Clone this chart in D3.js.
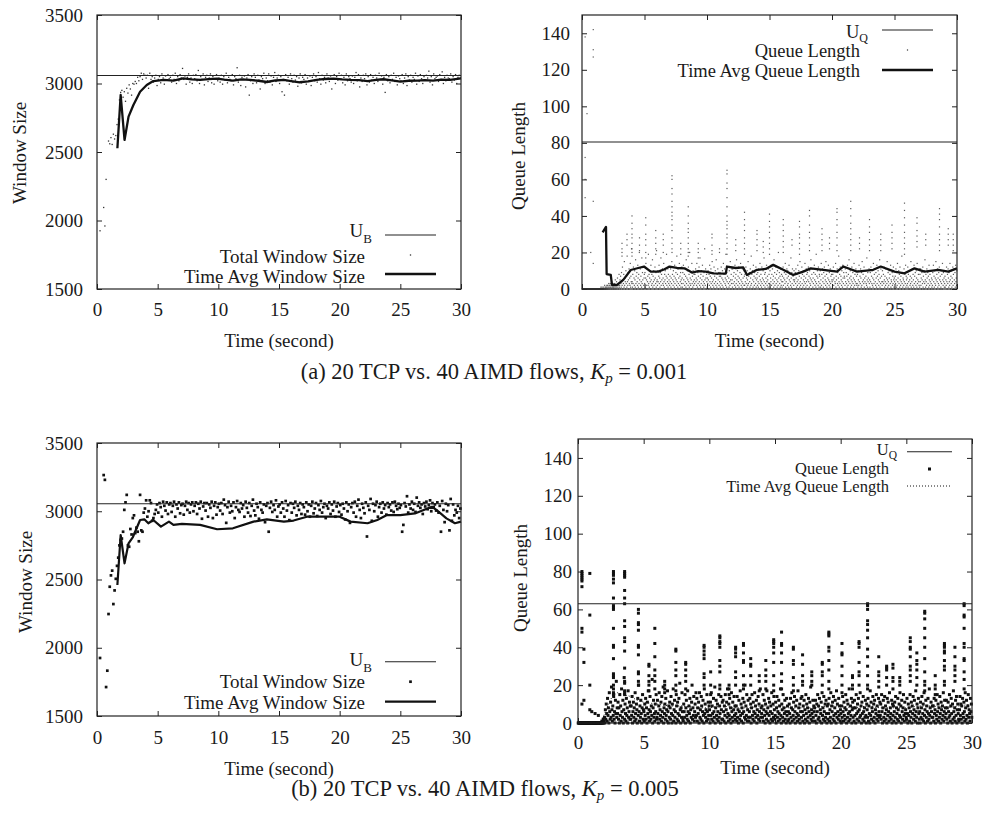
<!DOCTYPE html>
<html><head><meta charset="utf-8">
<script src="https://cdn.jsdelivr.net/npm/d3@7/dist/d3.min.js"></script>
<style>
body{margin:0;background:#fff}
svg{display:block}
text{font-family:"Liberation Serif","Times New Roman",serif;fill:#1a1a1a}
</style>
</head><body>
<svg id="c" width="989" height="823"></svg>
<script>
// ---------------- DATA ----------------
const xTicks = [0, 5, 10, 15, 20, 25, 30];
const winTicks = [1500, 2000, 2500, 3000, 3500];
const qTicks = [0, 20, 40, 60, 80, 100, 120, 140];
const U_B_a = 3058, U_Q_a = 80.5, U_B_b = 3055, U_Q_b = 63;

// (a) total window size, 10 samples per second ("-" = no sample)
const w1Lines = [
"- - 1925 - - 2095 1960 2300 - 2580",
"2560 2605 2555 2630 2595 2620 2700 2740 2880 2935",
"2950 2900 2940 2870 2965 2930 2990 2960 2915 3000",
"2995 3015 3000 3045 3020 3050 3075 3030 3070 3060",
"3040 3060 2965 3075 3030 3050 3010 3040 3060 2985",
"3030 3050 3005 3070 3040 2995 3055 3025 3065 3035",
"3045 3010 3060 3030 3075 3000 3050 3020 3065 3040",
"3110 3030 3055 2995 3045 3070 3010 3040 3000 3060",
"3035 3065 3020 3095 3000 3050 3030 3070 2990 3045",
"3060 3015 3040 3070 3005 3050 2995 3035 3065 3020",
"3040 3010 3060 2995 3050 3025 3075 3005 3045 3030",
"3020 3065 2990 3050 3035 3115 3010 3060 2985 3045",
"3030 3055 2975 3040 3065 2915 3020 3050 3000 3070",
"3045 3005 3060 3025 2960 3050 3035 3075 3000 3040",
"3020 3070 3010 3055 2990 3045 3080 3015 3040 3060",
"3000 3050 2940 3030 2915 3065 3020 3045 2995 3070",
"3035 3010 3060 3025 3050 2980 3040 3070 3005 3045",
"3030 3065 2995 3040 3015 3055 2985 3045 3070 3020",
"3050 3010 3080 3035 2995 3060 3025 3045 3005 3070",
"3040 3015 3055 2960 3035 3065 3000 3050 3025 3075",
"3030 3060 3005 3045 2990 3070 3020 3050 3035 3010",
"3055 3000 3045 3080 3020 3065 2975 3040 3015 3060",
"3035 3070 2990 3050 3010 3065 3025 3045 3000 3060",
"3040 3015 3075 3030 3055 2995 3045 2935 3065 3020",
"3050 3005 3060 3030 3075 3015 3045 2990 3055 3035",
"3020 3065 3000 3040 3070 2985 3050 3025 3060 3010",
"3045 3030 3075 2995 3055 3015 3065 3035 3000 3050",
"3025 3060 3040 3090 3010 3050 2990 3070 3035 3045",
"3055 3015 3065 3030 3085 3000 3045 3020 3060 3040",
"3035 3070 3010 3050 3025 3065 3000 3045 3060 3040"
];
const avg1T = [1.68,1.95,2.27,2.6,3.0,3.55,4.1,4.64,5.5,6.3,7.1,7.8,8.5,9.2,9.9,10.5,11.2,11.9,12.6,13.3,14,14.7,15.4,16,16.7,17.4,18.1,18.8,19.5,20.2,20.9,21.6,22.3,23,23.6,24.3,25,25.7,26.4,27,27.7,28.4,29.1,30];
const avg1V = [2527,2916,2588,2758,2843,2940,2989,3018,3026,3021,3038,3030,3026,3032,3036,3028,3021,3030,3026,3020,3011,3022,3026,3018,3009,3015,3026,3033,3036,3030,3026,3025,3018,3026,3031,3022,3013,3020,3021,3025,3021,3028,3026,3038];

// (a) queue length, 40 samples per second
const q2Lines = [
"0 0 0 0 0 0 0 0 0 0 0 0 0 0 0 0 0 0 0 0 0 0 0 0 0 0 0 0 0 0 0 0 0 0 0 0 0 0 0 0",
"0 0 0 0 0 0 0 0 0 0 0 0 0 0 0 0 0 0 0 0 1 0 0 0 1 0 0 0 0 1 0 0 2 0 1 0 0 1 0 2",
"1 0 2 0 1 3 0 2 1 0 3 1 2 0 4 1 0 2 1 3 0 1 2 0 3 1 5 0 2 1 4 0 2 6 1 3 0 2 8 1",
"2 5 0 7 3 1 9 4 2 12 0 5 3 8 1 15 2 6 4 0 10 3 7 1 18 4 2 9 5 0 11 3 6 2 14 1 7 4 22 3",
"4 1 8 3 12 0 6 2 10 5 1 16 3 7 0 9 4 2 13 6 1 8 3 20 5 0 11 2 7 4 1 17 3 9 5 0 12 2 6 8",
"3 9 1 6 14 2 5 0 11 4 7 2 19 3 8 1 6 10 4 0 13 5 2 8 3 16 1 7 4 10 2 5 0 12 6 3 9 1 21 4",
"5 2 10 4 0 7 13 3 6 1 9 4 17 2 8 5 0 11 3 6 2 14 4 1 8 5 10 3 0 7 19 2 6 4 11 1 8 3 5 12",
"2 7 4 11 1 6 3 15 0 8 5 2 10 4 7 1 13 3 6 0 9 5 2 18 4 8 1 11 3 6 0 14 2 7 4 9 1 5 3 12",
"6 1 9 3 13 5 0 8 2 11 4 7 1 16 3 6 0 10 5 2 12 4 8 1 20 3 6 2 9 5 0 14 3 7 1 10 4 2 8 5",
"3 8 0 11 4 6 2 14 5 1 9 3 7 0 12 4 2 17 6 1 8 3 10 5 0 13 2 7 4 1 9 3 22 5 2 11 6 0 8 4",
"1 6 3 10 5 0 8 2 13 4 7 1 11 3 6 0 15 4 2 9 5 1 12 3 7 0 10 4 2 16 6 1 8 3 11 5 0 9 2 7",
"4 9 1 7 3 12 0 6 2 10 5 1 14 4 8 0 11 3 6 2 19 5 1 9 4 7 0 12 3 6 1 10 4 2 15 5 0 8 3 11",
"5 1 11 3 7 0 9 4 2 13 6 1 8 3 16 5 0 10 2 7 4 12 1 6 3 9 0 14 5 2 8 4 1 11 3 6 0 10 2 7",
"2 8 4 0 12 3 6 1 10 5 2 15 3 7 0 9 4 1 11 6 2 18 3 8 0 10 5 1 13 4 7 2 9 0 6 3 12 1 5 8",
"6 2 9 4 1 11 3 7 0 14 5 2 8 4 1 12 3 6 0 10 5 2 17 4 8 1 9 3 6 0 13 4 2 7 5 1 11 3 8 0",
"3 10 1 6 4 13 2 8 0 11 5 3 7 1 16 4 9 2 6 0 12 3 8 5 1 10 4 2 20 6 0 9 3 7 1 11 5 2 8 4",
"1 7 4 12 2 6 0 9 5 3 14 1 8 4 0 11 6 2 10 3 7 1 13 5 0 8 4 2 17 6 1 9 3 11 0 7 5 2 10 4",
"5 0 9 3 11 6 1 8 4 2 13 5 0 10 3 7 1 15 4 2 9 6 0 12 3 8 1 10 5 2 7 4 0 14 3 6 1 11 4 8",
"2 9 5 0 12 4 7 1 10 3 6 2 16 5 0 8 4 11 1 6 3 9 0 13 5 2 8 4 1 19 3 7 0 10 6 2 12 4 1 8",
"7 3 10 1 5 14 2 8 0 11 4 6 1 9 3 12 0 7 5 2 15 4 8 1 10 3 6 0 13 5 2 9 4 1 11 3 7 0 8 5",
"4 1 8 5 12 2 6 0 10 4 3 14 1 7 5 0 11 3 9 2 6 18 4 1 8 3 12 0 7 5 2 10 4 1 13 6 3 9 0 7",
"6 2 11 4 0 9 3 7 1 13 5 2 8 4 16 0 6 3 10 1 7 5 2 12 4 0 9 3 6 1 14 5 2 8 4 0 11 3 7 2",
"3 8 1 10 5 2 13 4 0 7 3 11 6 1 9 2 15 4 0 8 5 3 12 1 6 4 10 0 7 3 2 17 5 1 9 4 6 0 11 3",
"5 1 9 4 12 0 7 3 10 2 6 1 14 5 3 8 0 11 4 2 9 6 1 13 3 7 0 10 5 2 8 4 16 1 6 3 11 0 7 4",
"2 10 4 0 8 3 12 5 1 7 4 2 11 0 6 3 15 5 1 9 4 2 10 6 0 8 3 13 1 5 4 0 9 2 7 3 12 5 1 6",
"4 0 7 3 11 5 1 9 2 14 4 6 0 10 3 8 1 12 5 2 7 4 0 18 3 9 1 6 5 2 11 4 0 8 3 13 1 7 5 2",
"6 3 12 1 8 4 0 10 5 2 7 3 15 1 6 4 0 11 2 8 5 1 13 3 7 0 9 4 2 10 6 1 14 3 5 0 8 4 2 11",
"1 8 4 11 2 6 0 9 5 3 12 1 7 4 0 10 3 16 5 1 8 4 2 11 6 0 9 3 7 1 13 5 2 8 4 0 10 3 6 1",
"5 2 9 0 13 4 7 1 10 3 6 2 15 5 0 8 4 11 1 6 3 9 2 12 5 0 7 4 1 10 3 8 0 14 5 2 9 4 6 1",
"3 7 1 10 5 2 12 4 0 8 3 11 6 1 9 4 2 14 5 0 7 3 10 1 6 4 12 2 8 0 11 5 3 9 1 13 4 6 2 10"
];
// (a) queue bursts: [time, values]
const q2Bursts = [
[0.25,[138,72,60,50]],[0.4,[96]],[0.7,[20]],[0.9,[142,131,127,48,14]],
[3.2,[25,22,20,18]],[3.6,[30,27,24]],[4.0,[40,36,33,30,28,25,22,20,18]],[4.6,[28,24,21]],
[5.1,[39,35,30,27,24,20,17]],[5.9,[32,28,25,22,19]],[6.5,[30,27,24,20]],
[7.2,[62,60,55,52,48,45,42,40,38,35,32,28,25,22,20]],[7.9,[25,22,19]],
[8.5,[45,40,36,33,31,28,25,22,20,18]],[9.3,[25,22,20,17]],[10.4,[30,28,24,21,19]],[11.0,[22,20]],
[11.6,[65,63,58,55,50,45,40,37,35,33,30,28,25,22,19]],[12.3,[27,24,21]],
[13.0,[42,38,35,32,28,25,22,19]],[14.0,[32,30,27,24,21]],[14.5,[26,23,20]],
[15.0,[41,37,34,31,28,25,22,19]],[16.1,[38,35,32,29,26,23,20]],[16.8,[27,24]],
[17.4,[37,34,30,28,25,22,19]],[18.2,[43,40,35,31,28,24,21]],[19.2,[33,30,27,24,21]],
[19.8,[28,25,22]],[20.4,[44,42,38,35,31,28,24,21]],[21.5,[48,44,40,36,33,30,27,24,21]],
[22.2,[28,25,22]],[23.0,[38,34,31,27,24,21]],[23.9,[30,27,24,21]],[24.8,[35,31,28,25,22]],
[25.8,[47,43,39,35,31,28,25,22,19]],[26.8,[39,36,32,29,26,23]],[27.5,[30,27,24]],
[28.6,[44,41,38,34,30,27,24,21]],[29.3,[33,30,27,24]],[29.7,[30,27,24,21]]
];
const avg2T = [1.65,1.92,1.97,2.3,2.4,2.8,3.3,3.9,4.5,4.96,5.5,6.1,6.6,7.0,7.6,8.2,8.8,9.3,9.9,10.5,11.5,11.6,12.3,12.9,13.2,14.0,14.7,15.3,16.1,16.9,17.7,18.3,19.3,20.4,20.9,22.0,23.3,23.9,25.0,25.8,26.6,27.4,28.5,29.3,30];
const avg2V = [31,34,8.2,7.7,2.2,2.2,5,10.4,11.5,12.3,9.5,9.5,10.8,12.3,11.5,11.3,9,9.8,9.5,8.5,8.4,12.3,11.5,11.8,7.7,10.5,11,13.2,10.5,7.7,9.5,11.3,10.5,9.5,12.3,9.5,10.5,12.3,9.5,8.6,11.3,9.5,10.5,9.5,11.3];

// (b) total window size, 10 samples per second
const w3Lines = [
"- - 1925 - - 3265 3230 1712 1832 2247",
"2447 2530 2565 2320 2420 2505 2600 2660 2750 2790",
"2800 2850 3010 3065 3120 2750 2740 2870 2830 2950",
"2970 2840 2880 2850 2780 3120 2860 2850 2990 3020",
"3080 2960 3000 3080 3060 2930 2950 2980 3010 3050",
"2990 3060 3030 2960 3070 3040 3005 3065 2980 3050",
"3060 2995 3040 3070 2960 3050 3020 3065 2985 3045",
"3055 2975 3040 3070 3010 3060 2990 3050 3065 3000",
"3040 3065 2980 3055 3020 3070 2945 3035 3060 3005",
"3060 2960 3050 3025 3070 2950 3040 3065 2975 3030",
"3055 3005 3060 2980 3085 3045 2915 3030 3070 2990",
"3040 3000 3065 2950 3030 3075 3010 2995 3060 3020",
"3045 2960 3070 3025 2990 3060 2965 3040 3085 3005",
"2970 3055 3030 2945 3065 3010 2990 3050 2920 3040",
"3060 2850 3025 3070 2995 3045 3010 3080 2960 3035",
"3050 2990 3065 3020 2960 3075 3005 3045 2935 3060",
"2990 3055 3025 3070 2970 3040 3010 3060 2980 3050",
"3030 2975 3065 3000 3050 2960 3040 3070 2985 3020",
"3060 2965 3045 3010 3075 2990 3030 3055 2950 3040",
"3020 3065 2980 3050 3005 3070 2960 3035 3060 2995",
"3045 2975 3055 3020 2940 3065 3000 3050 2915 3030",
"3060 2990 3070 2960 3040 3085 3010 2950 3055 3025",
"2985 3065 2815 3040 3010 3090 2930 3055 3000 3045",
"3070 2960 3030 3055 2990 3065 3020 3045 2975 3060",
"3030 3050 3005 3065 2995 3070 3040 3015 3055 3025",
"3045 2850 2900 3060 3035 3110 2990 3050 3020 3070",
"3010 3055 2995 3100 3040 3065 3025 3050 2980 3060",
"3035 3070 3015 3045 3080 3000 3060 3030 3050 3005",
"3065 2990 3040 2850 3075 3010 2920 3055 3000 3045",
"2860 3090 2930 3050 2970 3010 2990 3040 2950 3020"
];
const avg3T = [1.68,1.95,2.27,2.6,2.96,3.55,3.9,4.23,4.64,5.27,5.93,6.3,7,8.5,9.9,11.2,12.9,14,15.4,16.2,17.3,18.9,20,20.9,22.3,23.1,23.9,25,26.2,27.6,28,28.8,29.5,30];
const avg3V = [2460,2826,2618,2765,2811,2936,2941,2912,2936,2887,2924,2900,2907,2900,2868,2875,2924,2941,2924,2932,2960,2960,2960,2924,2912,2936,2972,2972,2984,3033,3008,2948,2912,2924];

// (b) queue length, 30 samples per second
const q4Lines = [
"0 0 0 0 0 0 0 0 0 0 0 0 0 0 0 0 0 0 0 0 0 0 0 0 0 0 0 0 0 0",
"0 0 0 0 0 0 0 0 0 0 0 0 0 0 0 0 0 0 0 0 0 0 0 0 1 0 0 2 0 1",
"3 0 7 2 10 5 1 13 4 8 0 16 6 2 11 3 19 7 1 9 4 14 2 6 0 12 5 22 3 8",
"5 11 2 8 0 15 4 9 1 18 6 3 12 0 7 24 2 10 5 1 13 4 8 0 17 3 6 11 2 9",
"2 9 4 14 0 6 11 3 8 1 16 5 2 10 7 0 13 4 20 6 1 9 3 12 5 0 8 15 2 7",
"6 1 10 4 13 2 8 0 11 5 17 3 7 1 14 6 2 9 4 23 0 8 12 3 5 1 10 6 15 2",
"3 12 5 0 9 16 2 7 4 11 1 14 6 3 19 0 8 5 10 2 13 4 7 1 17 6 0 9 3 11",
"8 2 14 5 0 10 4 18 1 7 12 3 6 0 15 9 2 11 5 1 13 4 21 7 0 8 3 16 6 2",
"1 10 6 3 15 0 8 12 4 2 17 6 1 9 5 13 0 7 3 11 20 2 8 4 14 1 6 10 3 16",
"4 13 1 8 5 11 0 16 3 7 2 14 9 1 6 12 4 0 18 5 10 3 7 1 15 6 2 11 4 9",
"7 0 11 4 16 2 9 5 1 13 6 3 19 0 8 12 4 2 10 6 1 15 3 9 5 0 14 7 2 11",
"2 12 6 1 9 4 15 0 7 11 3 18 5 1 10 4 13 2 8 0 16 6 3 11 1 7 14 4 9 2",
"5 9 1 14 3 7 0 12 6 2 17 4 10 1 8 5 13 0 6 11 3 20 2 9 4 15 1 7 12 3",
"1 6 13 3 10 0 8 15 4 2 11 6 1 16 5 9 3 12 0 7 4 14 2 10 6 1 18 3 8 5",
"9 3 15 1 7 12 4 0 10 6 2 17 5 8 1 13 4 11 0 6 9 2 16 5 1 10 3 14 7 2",
"4 11 0 8 14 3 6 1 12 5 9 2 18 4 0 10 7 3 15 1 8 5 12 2 6 0 13 4 9 1",
"6 2 10 5 0 13 3 8 16 1 7 4 11 2 14 6 0 9 3 12 5 1 17 4 8 2 10 0 6 13",
"3 14 6 1 9 4 12 0 7 2 15 5 10 1 8 3 13 6 0 11 4 19 2 7 5 1 12 3 9 6",
"8 1 12 4 0 10 6 15 2 9 3 13 1 7 5 11 0 16 4 8 2 14 6 1 10 3 12 5 0 9",
"2 10 5 13 1 7 3 16 0 9 6 11 2 14 4 1 8 12 5 0 17 3 10 6 2 13 4 9 1 7",
"5 0 9 3 14 6 1 11 4 8 2 15 7 0 12 3 10 5 1 18 6 2 9 4 13 0 7 11 3 8",
"1 12 4 8 0 15 5 2 10 6 13 1 7 3 16 4 9 0 11 5 2 14 6 1 8 3 12 4 0 10",
"7 3 13 1 9 5 0 17 4 11 2 8 6 14 1 10 3 12 0 7 5 15 2 9 4 1 13 6 3 11",
"4 10 2 15 6 0 8 12 3 1 14 5 9 2 7 0 13 4 11 6 1 16 3 8 5 2 12 0 10 4",
"9 1 6 11 3 14 0 8 5 2 13 7 1 10 4 16 3 9 0 12 6 2 8 15 4 1 11 5 7 3",
"2 13 5 0 10 4 8 1 15 6 3 11 0 9 5 14 2 7 12 4 1 17 6 3 10 0 8 13 5 2",
"6 0 11 3 8 14 2 5 10 1 16 4 7 0 12 3 9 6 1 13 5 2 18 4 8 0 11 6 3 9",
"3 9 1 13 5 7 0 12 4 2 15 6 10 1 8 3 14 5 0 11 7 2 9 4 16 1 6 12 3 8",
"5 12 2 8 0 11 6 3 15 4 1 9 13 5 0 10 2 17 6 3 8 1 12 4 14 0 7 10 5 2",
"1 7 14 4 10 2 9 0 13 5 3 11 6 1 16 8 2 12 4 0 9 15 3 7 5 1 13 6 10 3"
];
const q4Bursts = [
[0.3,[80,79,78,77,76,75,72,50,48,10]],[0.45,[39,32,12]],[0.9,[79,57,20,7]],[1.05,[6]],[1.3,[5]],[1.55,[4]],
[2.7,[80,79,78,76,74,66,62,61,60,50,41,40,34,26,25,24,20,18,16,15]],
[3.55,[80,79,78,77,70,66,63,54,51,45,43,38,29,22,21,17,16,15]],
[4.6,[60,58,53,52,49,41,40,36,27,26,22,20]],[5.4,[31,30,25,22,20,17]],
[5.85,[50,42,35,28,25,22,18]],[6.6,[22,20,18,16]],[7.45,[39,38,32,28,25,20,17]],
[8.2,[32,31,28,25,22,18]],[9.6,[41,40,38,36,34,26,24,20]],[10.1,[27,20,15]],
[10.8,[46,45,43,42,40,33,30,27,20,18]],[11.5,[20,18,15]],[12.0,[40,39,37,35,27,24,20]],
[12.6,[42,41,37,33,32,25,20,18]],[13.15,[34,31,30,25,20]],[13.8,[25,22,17]],
[14.3,[33,28,25,22,18]],[14.9,[44,43,42,40,37,32,25,20,17]],[15.5,[48,42,41,37,32,26,22,18]],
[16.4,[40,39,33,31,24,20,17]],[17.1,[36,31,25,22,20]],[17.8,[27,25,22,20]],
[18.6,[32,31,27,25,20]],[19.1,[48,47,46,40,38,33,28,22,18]],[20.1,[42,37,36,30,25,20,16]],
[20.9,[25,24,20,18]],[21.4,[43,42,40,32,27,25,20]],[22.05,[63,62,60,54,52,49,45,39,35,30,25,20,18]],
[22.9,[35,27,25,22,19]],[23.5,[30,29,28,24,20]],[23.98,[31,29,24,22,18]],[24.5,[24,22,20]],
[25.3,[45,43,40,39,35,30,28,25,22]],[25.8,[37,33,31,28,24,20]],
[26.4,[59,58,55,50,45,40,34,27,22,20,17]],[27.2,[25,20,18,15]],
[27.9,[42,41,40,38,37,33,30,28,22,20]],[28.7,[40,35,30,28,25,22]],
[29.4,[63,62,57,56,50,42,40,34,33,27,23,18]]
];
const avg4T = [1.8,2.2,2.6,3.0,3.5,4.0,4.5,5,6,7,8,9,10,11,12,13,14,15,16,17,18,19,20,21,22,23,24,25,26,27,28,29,30];
const avg4V = [1,8,14,16,15,14,12,11,10,9,9,8,8,9,8,8,9,9,8,8,8,9,9,8,9,8,8,8,9,9,8,9,10];

const legendA = ["Total Window Size", "Time Avg Window Size"];
const legendQ = ["Queue Length", "Time Avg Queue Length"];

// ---------------- HELPERS ----------------
function perSec(lines, n) {
  const out = [];
  lines.forEach((ln, s) => ln.trim().split(/\s+/).forEach((tok, i) => {
    if (tok !== "-") out.push({ t: s + (i + 0.5) / n, v: +tok });
  }));
  return out;
}
const bursts = cols => cols.flatMap(([t, vs]) => vs.map(v => ({ t, v })));
const series = (ts, vs) => ts.map((t, i) => ({ t, v: vs[i] }));

const svg = d3.select("#c");
const FONT = '"Liberation Serif","Times New Roman",serif';

function styleAxis(g, size) {
  g.attr("font-family", FONT).attr("font-size", size);
  g.select(".domain").remove();
  g.selectAll("line").attr("stroke", "#222");
  g.selectAll("text").attr("fill", "#1a1a1a");
}

function drawPanel(p) {
  const x = d3.scaleLinear().domain([0, 30]).range([p.x0, p.x1]);
  const y = d3.scaleLinear().domain(p.yDom).range([p.y1, p.y0]);
  const g = svg.append("g");

  g.append("g").attr("transform", `translate(0,${p.y1})`)
    .call(d3.axisBottom(x).tickValues(xTicks).tickSize(-5).tickPadding(p.xPad).tickFormat(d3.format("d")))
    .call(a => styleAxis(a, 19));
  g.append("g").attr("transform", `translate(0,${p.y0})`)
    .call(d3.axisTop(x).tickValues(xTicks).tickSize(-5).tickFormat(""))
    .call(a => styleAxis(a, 19));
  g.append("g").attr("transform", `translate(${p.x0},0)`)
    .call(d3.axisLeft(y).tickValues(p.yTicks).tickSize(-5).tickPadding(p.yPad).tickFormat(d3.format("d")))
    .call(a => styleAxis(a, 19));
  g.append("g").attr("transform", `translate(${p.x1},0)`)
    .call(d3.axisRight(y).tickValues(p.yTicks).tickSize(-5).tickFormat(""))
    .call(a => styleAxis(a, 19));

  // scatter
  const s = p.dot;
  g.append("g").attr("fill", p.dotFill).attr("fill-opacity", p.dotOpacity || 1)
    .selectAll("rect").data(p.pts).join("rect")
    .attr("x", d => x(d.t) - s / 2).attr("y", d => y(d.v) - s / 2)
    .attr("width", s).attr("height", s);

  // upper bound line
  g.append("line").attr("x1", x(0)).attr("x2", x(30))
    .attr("y1", y(p.u)).attr("y2", y(p.u)).attr("stroke", "#222").attr("stroke-width", 1.1);

  // time average
  const line = d3.line().x(d => x(d.t)).y(d => y(d.v));
  g.append("path").datum(p.avg).attr("d", line).attr("fill", "none")
    .attr("stroke", "#111").attr("stroke-width", p.avgW)
    .attr("stroke-dasharray", p.avgDash || null).attr("stroke-linejoin", "round");

  // frame
  g.append("rect").attr("x", p.x0).attr("y", p.y0).attr("width", p.x1 - p.x0).attr("height", p.y1 - p.y0)
    .attr("fill", "none").attr("stroke", "#222").attr("stroke-width", 1.2);

  // titles
  g.append("text").attr("x", (p.x0 + p.x1) / 2).attr("y", p.xTitleY).attr("text-anchor", "middle")
    .attr("font-size", 19).text("Time (second)");
  g.append("text").attr("transform", `translate(${p.yTitleX},${p.yTitleY}) rotate(-90)`)
    .attr("text-anchor", "middle").attr("font-size", 19).text(p.yTitle);

  // legend
  const L = p.leg;
  const t0 = g.append("text").attr("x", L.uEnd).attr("y", L.rows[0]).attr("text-anchor", "end").attr("font-size", L.fs);
  t0.append("tspan").text("U");
  t0.append("tspan").attr("font-size", L.subFs).attr("dy", L.subDy).text(p.uSub);
  g.append("line").attr("x1", L.lx0).attr("x2", L.lx1).attr("y1", L.marks[0]).attr("y2", L.marks[0])
    .attr("stroke", "#222").attr("stroke-width", 1.1);
  g.append("text").attr("x", L.textX).attr("y", L.rows[1]).attr("text-anchor", "end").attr("font-size", L.fs).text(p.labels[0]);
  g.append("rect").attr("x", (L.lx0 + L.lx1) / 2 - s / 2).attr("y", L.marks[1] - s / 2).attr("width", s).attr("height", s)
    .attr("fill", p.dotFill);
  g.append("text").attr("x", L.textX).attr("y", L.rows[2]).attr("text-anchor", "end").attr("font-size", L.fs).text(p.labels[1]);
  g.append("line").attr("x1", L.lx0).attr("x2", L.lx1).attr("y1", L.marks[2]).attr("y2", L.marks[2])
    .attr("stroke", "#111").attr("stroke-width", p.avgW).attr("stroke-dasharray", p.avgDash || null);
}

// ---------------- PANELS ----------------
drawPanel({
  x0: 97, x1: 461, y0: 15, y1: 289, yDom: [1500, 3500], yTicks: winTicks, u: U_B_a, uSub: "B",
  xPad: 14, yPad: 14, xTitleY: 347, yTitle: "Window Size", yTitleX: 26, yTitleY: 153,
  pts: perSec(w1Lines, 10), dot: 1.3, dotFill: "#333",
  avg: series(avg1T, avg1V), avgW: 2.3, labels: legendA,
  leg: { fs: 19, subFs: 13, subDy: 6, uEnd: 372, textX: 365, lx0: 385, lx1: 436,
         rows: [237, 262.5, 283], marks: [235, 255, 274] }
});
drawPanel({
  x0: 582, x1: 957, y0: 15, y1: 289, yDom: [0, 150], yTicks: qTicks, u: U_Q_a, uSub: "Q",
  xPad: 14, yPad: 12, xTitleY: 347, yTitle: "Queue Length", yTitleX: 525, yTitleY: 156,
  pts: perSec(q2Lines, 40).concat(bursts(q2Bursts)), dot: 1.2, dotFill: "#333", dotOpacity: 0.8,
  avg: series(avg2T, avg2V), avgW: 2.3, labels: legendQ,
  leg: { fs: 18.5, subFs: 12, subDy: 4, uEnd: 868, textX: 860, lx0: 882, lx1: 933,
         rows: [37.5, 57, 76.5], marks: [30, 50, 70] }
});
drawPanel({
  x0: 97, x1: 461, y0: 443, y1: 716, yDom: [1500, 3500], yTicks: winTicks, u: U_B_b, uSub: "B",
  xPad: 15, yPad: 14, xTitleY: 775, yTitle: "Window Size", yTitleX: 32, yTitleY: 582,
  pts: perSec(w3Lines, 10), dot: 2.7, dotFill: "#111",
  avg: series(avg3T, avg3V), avgW: 2.2, labels: legendA,
  leg: { fs: 19, subFs: 13, subDy: 6, uEnd: 372, textX: 365, lx0: 385, lx1: 436,
         rows: [666, 688, 709], marks: [661.7, 681.7, 701.7] }
});
drawPanel({
  x0: 578, x1: 972, y0: 439, y1: 723, yDom: [0, 150], yTicks: qTicks, u: U_Q_b, uSub: "Q",
  xPad: 13, yPad: 6, xTitleY: 774, yTitle: "Queue Length", yTitleX: 527, yTitleY: 578,
  pts: perSec(q4Lines, 30).concat(bursts(q4Bursts)), dot: 3, dotFill: "#111",
  avg: series(avg4T, avg4V), avgW: 1, avgDash: "1,2", labels: legendQ,
  leg: { fs: 16.5, subFs: 11.5, subDy: 4, uEnd: 897, textX: 889, lx0: 907, lx1: 952,
         rows: [454.5, 473.5, 492], marks: [451.7, 469, 486] }
});

// ---------------- CAPTIONS ----------------
function caption(x, yb, prefix, val) {
  const t = svg.append("text").attr("x", x).attr("y", yb).attr("text-anchor", "middle").attr("font-size", 22.5);
  t.append("tspan").text(prefix);
  t.append("tspan").attr("font-style", "italic").text("K");
  t.append("tspan").attr("font-style", "italic").attr("font-size", 15).attr("dy", 4).text("p");
  t.append("tspan").attr("dy", -4).text(" = " + val);
}
caption(494, 379, "(a) 20 TCP vs. 40 AIMD flows, ", "0.001");
caption(485, 796, "(b) 20 TCP vs. 40 AIMD flows, ", "0.005");
</script>
</body></html>
